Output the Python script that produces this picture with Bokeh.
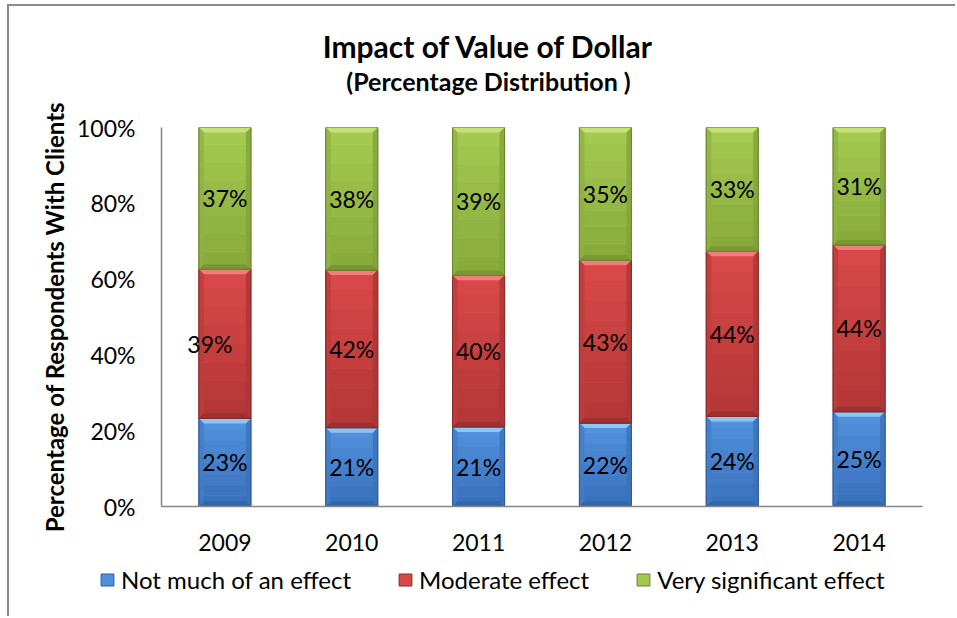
import numpy as np
from bokeh.plotting import figure
from bokeh.layouts import column
from bokeh.models import (ColumnDataSource, FixedTicker, NumeralTickFormatter,
                          Label, Legend, LegendItem, Range1d)
from bokeh.core.properties import value
from bokeh.embed import file_html
from bokeh.resources import INLINE

# ---------------- data ----------------
chart_title = "Impact of Value of Dollar"
chart_subtitle = "(Percentage Distribution )"
y_axis_title = "Percentage of Respondents With Clients"
years = ["2009", "2010", "2011", "2012", "2013", "2014"]
series_names = ["Not much of an effect", "Moderate effect", "Very significant effect"]
not_much = [23, 21, 21, 22, 24, 25]
moderate = [39, 42, 40, 43, 44, 44]
very_significant = [37, 38, 39, 35, 33, 31]
y_ticks = [0, 0.2, 0.4, 0.6, 0.8, 1.0]

# ---------------- style ----------------
FONT = "Lato"
W = 946
H0, H1, H2 = 94, 458, 58
MBL, MBR, MBT, MBB = 152, 33, 27, 52
BAR_W = 0.41
# (top colour, bottom colour, bevel light, edge dark)
palette = [
    ("#5190dc", "#3a71bd", "#8cc6f2", "#2b5a98"),
    ("#d84848", "#b53737", "#f27b7b", "#872828"),
    ("#a4c950", "#88ab3b", "#c7e274", "#67842a"),
]

frame_w = W - MBL - MBR
frame_h = H1 - MBT - MBB
n = len(years)
ux = n / frame_w      # data units per pixel (x)
uy = 1.0 / frame_h    # data units per pixel (y)

series = [not_much, moderate, very_significant]
totals = np.sum(np.array(series, dtype=float), axis=0)
fracs = [np.array(s, dtype=float) / totals for s in series]


def strip(h):
    f = figure(width=W, height=h, x_range=Range1d(0, 1), y_range=Range1d(0, 1),
               output_backend="svg", toolbar_location=None, tools="",
               min_border=0, x_axis_location=None, y_axis_location=None)
    f.frame_align = False
    f.outline_line_color = None
    f.xgrid.grid_line_color = None
    f.ygrid.grid_line_color = None
    f.border_fill_color = "white"
    f.background_fill_color = "white"
    return f


# ---------- title strip ----------
p0 = strip(H0)
p0.add_layout(Label(x=479, y=55, x_units="screen", y_units="screen",
                    text=chart_title, text_align="center", text_baseline="middle",
                    text_font=FONT, text_font_size="30px", text_font_style="bold",
                    text_color="black"))
p0.add_layout(Label(x=479, y=20, x_units="screen", y_units="screen",
                    text=chart_subtitle, text_align="center", text_baseline="middle",
                    text_font=FONT, text_font_size="25px", text_font_style="bold",
                    text_color="black"))

# ---------- main chart ----------
p = figure(width=W, height=H1, x_range=Range1d(-0.5, n - 0.5), y_range=Range1d(0, 1),
           output_backend="svg", toolbar_location=None, tools="",
           min_border_left=MBL, min_border_right=MBR,
           min_border_top=MBT, min_border_bottom=MBB)
p.frame_align = False
p.outline_line_color = None
p.xgrid.grid_line_color = None
p.ygrid.grid_line_color = None
p.background_fill_color = "white"
p.border_fill_color = "white"


def mix(c1, c2, t):
    a = [int(c1[i:i + 2], 16) for i in (1, 3, 5)]
    b = [int(c2[i:i + 2], 16) for i in (1, 3, 5)]
    return "#%02x%02x%02x" % tuple(int(round(a[k] + (b[k] - a[k]) * t)) for k in range(3))


xs_pos = np.arange(n)
bottom = np.zeros(n)
sources = []
label_x, label_y, label_t, label_off = [], [], [], []
bev_x = 5 * ux
bev_y = 5 * uy
for si, (vals, fr) in enumerate(zip(series, fracs)):
    top_c, bot_c, light_c, dark_c = palette[si]
    top = bottom + fr
    src = ColumnDataSource(dict(x=xs_pos, bottom=bottom.copy(), top=top.copy()))
    sources.append(src)
    p.vbar(x="x", width=BAR_W, bottom="bottom", top="top", source=src,
           fill_color=top_c, line_color=dark_c, line_width=1)
    # vertical shading bands
    nb = 8
    bx, bt, bb, bc = [], [], [], []
    for i in range(n):
        for k in range(nb):
            bx.append(xs_pos[i])
            bt.append(top[i] - (top[i] - bottom[i]) * k / nb)
            bb.append(top[i] - (top[i] - bottom[i]) * (k + 1) / nb)
            bc.append(mix(top_c, bot_c, k / (nb - 1)))
    p.vbar(x=bx, width=BAR_W, top=bt, bottom=bb, fill_color=bc, line_color=None)
    # bevel pieces
    txs, tys, bxs, bys, lxs, lys, rxs, rys = [], [], [], [], [], [], [], []
    for i in range(n):
        l = xs_pos[i] - BAR_W / 2
        r = xs_pos[i] + BAR_W / 2
        t = top[i]
        b = bottom[i]
        txs.append([l, r, r - bev_x, l + bev_x]); tys.append([t, t, t - bev_y, t - bev_y])
        bxs.append([l, r, r - bev_x, l + bev_x]); bys.append([b, b, b + bev_y, b + bev_y])
        lxs.append([l, l + bev_x, l + bev_x, l]); lys.append([b, b + bev_y, t - bev_y, t])
        rxs.append([r, r - bev_x, r - bev_x, r]); rys.append([b, b + bev_y, t - bev_y, t])
    p.patches(txs, tys, fill_color=light_c, line_color=None)
    p.patches(lxs, lys, fill_color=mix(top_c, dark_c, 0.35), line_color=None, fill_alpha=0.8)
    p.patches(rxs, rys, fill_color=mix(top_c, dark_c, 0.55), line_color=None, fill_alpha=0.8)
    p.patches(bxs, bys, fill_color=mix(bot_c, dark_c, 0.5), line_color=None)
    p.vbar(x=xs_pos, width=BAR_W, bottom=bottom.copy(), top=top.copy(),
           fill_color=None, line_color=dark_c, line_width=1, line_alpha=0.9)
    for i in range(n):
        label_x.append(xs_pos[i])
        label_y.append((bottom[i] + top[i]) / 2)
        label_t.append("%d%%" % vals[i])
        label_off.append(-15 if (si == 1 and i == 0) else 0)
    bottom = top

lsrc = ColumnDataSource(dict(x=label_x, y=label_y, text=label_t, xo=label_off))
p.text(x="x", y="y", text="text", x_offset="xo", source=lsrc, text_align="center",
       text_baseline="middle", text_font=value(FONT), text_font_size="23px",
       text_color="black")

# axes
for axes in (p.xaxis, p.yaxis):
    axes.axis_line_color = "#868686"
    axes.axis_line_width = 1.5
    axes.major_tick_line_color = None
    axes.minor_tick_line_color = None
    axes.major_tick_out = 0
    axes.major_tick_in = 0
    axes.major_label_text_font = FONT
    axes.major_label_text_font_size = "23px"
    axes.major_label_text_color = "black"

p.xaxis.ticker = FixedTicker(ticks=list(range(n)))
p.xaxis.major_label_overrides = {i: y for i, y in enumerate(years)}
p.xaxis.major_label_standoff = 27

p.yaxis.ticker = FixedTicker(ticks=y_ticks)
p.yaxis.formatter = NumeralTickFormatter(format="0%")
p.yaxis.major_label_standoff = 26
p.yaxis.axis_label = y_axis_title
p.yaxis.axis_label_text_font = FONT
p.yaxis.axis_label_text_font_size = "24px"
p.yaxis.axis_label_text_font_style = "bold"
p.yaxis.axis_label_text_color = "black"
p.yaxis.axis_label_standoff = 5

# ---------- legend strip ----------
p2 = strip(H2)
legend_items = []
for si, name in enumerate(series_names):
    top_c, bot_c, light_c, dark_c = palette[si]
    r = p2.vbar(x="x", width=BAR_W, bottom="bottom", top="top", source=sources[si],
                fill_color=top_c, line_color=dark_c, line_width=1, visible=False)
    legend_items.append(LegendItem(label=name, renderers=[r]))
legend = Legend(items=legend_items, orientation="horizontal", location=(90, 22),
                glyph_width=16, glyph_height=15, label_standoff=6, spacing=46,
                padding=0, margin=0, border_line_color=None, background_fill_alpha=0,
                inactive_fill_alpha=0, label_text_font=FONT, label_text_font_size="24px",
                label_text_color="black")
p2.add_layout(legend, "center")

layout = column(p0, p, p2, spacing=0,
                styles={"border-left": "2px solid #8a8a8a", "border-top": "2px solid #8a8a8a",
                        "margin-left": "7px", "margin-top": "4px"})

open("out.html", "w").write(file_html(layout, INLINE))
